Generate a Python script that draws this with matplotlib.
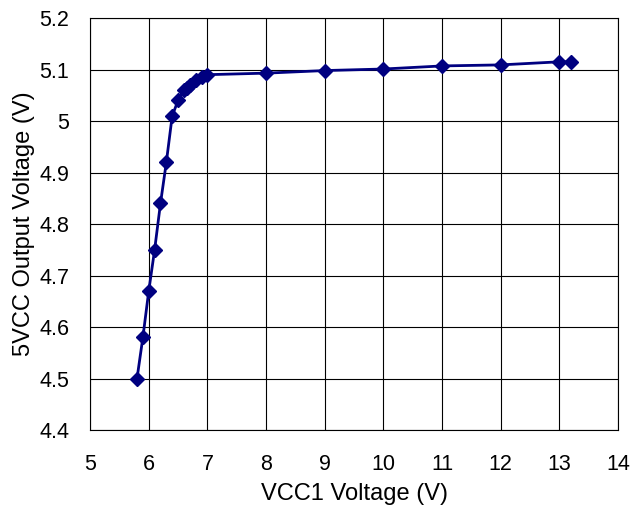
import matplotlib
matplotlib.use('Agg')
import matplotlib.pyplot as plt

vcc1 = [5.8, 5.9, 6.0, 6.1, 6.2, 6.3, 6.4, 6.5, 6.6, 6.65, 6.7, 6.8, 6.9, 7.0,
        8, 9, 10, 11, 12, 13, 13.2]
vout = [4.50, 4.58, 4.67, 4.75, 4.84, 4.92, 5.01, 5.04, 5.06, 5.065, 5.07, 5.08, 5.085, 5.09,
        5.093, 5.098, 5.101, 5.107, 5.109, 5.115, 5.115]

xticks = [5, 6, 7, 8, 9, 10, 11, 12, 13, 14]
yticks = [4.4, 4.5, 4.6, 4.7, 4.8, 4.9, 5.0, 5.1, 5.2]
ylabels = ['4.4', '4.5', '4.6', '4.7', '4.8', '4.9', '5', '5.1', '5.2']

plt.rcParams['font.family'] = ['Liberation Sans', 'DejaVu Sans']
fig = plt.figure(figsize=(6.3, 5.08), dpi=100)
ax = fig.add_axes([0.143, 0.1535, 0.838, 0.811])
ax.plot(vcc1, vout, color='#000080', lw=2, marker='D', ms=7, zorder=3, clip_on=False)
ax.set_xlim(5, 14)
ax.set_ylim(4.4, 5.2)
ax.set_xticks(xticks)
ax.set_yticks(yticks)
ax.set_yticklabels(ylabels)
ax.grid(True, color='black', lw=0.8)
for s in ax.spines.values():
    s.set_color('black')
    s.set_linewidth(0.8)
ax.tick_params(axis='both', labelsize=15.5, length=0)
ax.tick_params(axis='x', pad=17)
ax.tick_params(axis='y', pad=15)
ax.set_xlabel('VCC1 Voltage (V)', fontsize=17, labelpad=6)
ax.set_ylabel('5VCC Output Voltage (V)', fontsize=17, labelpad=3)
fig.savefig('out.png')
